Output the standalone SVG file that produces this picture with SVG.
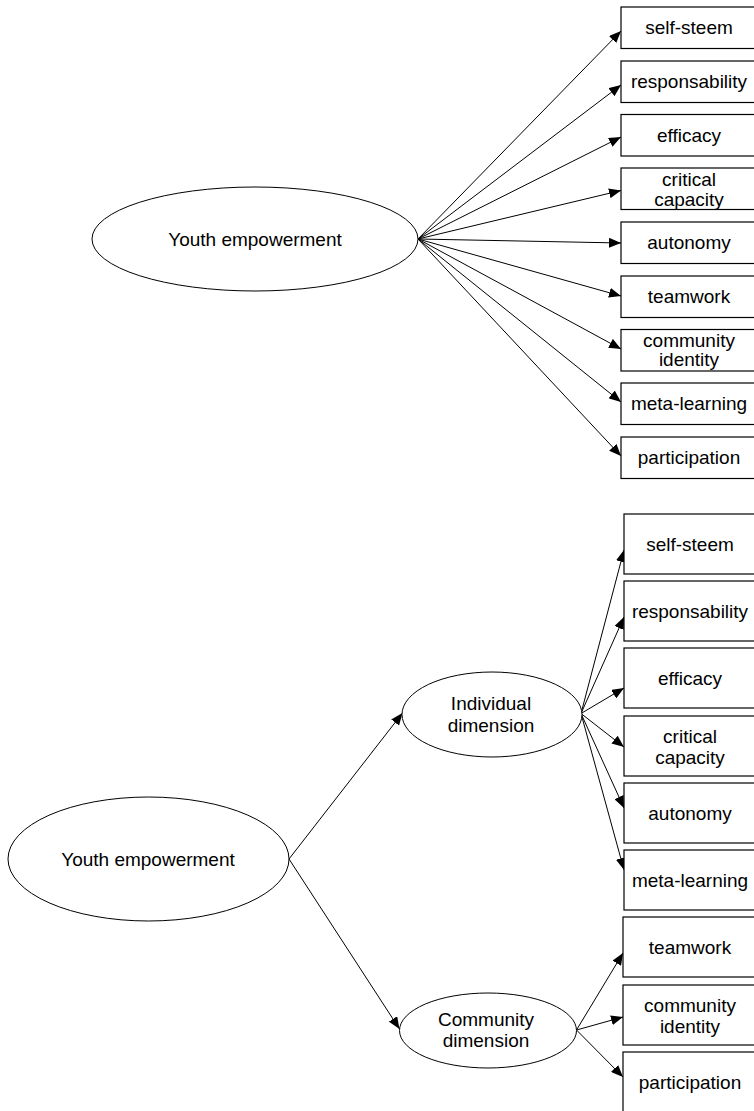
<svg xmlns="http://www.w3.org/2000/svg" width="754" height="1111" viewBox="0 0 754 1111">
<style>
.box{fill:#fff;stroke:#000;stroke-width:1.2}
.ell{fill:#fff;stroke:#000;stroke-width:1}
.t{font-family:"Liberation Sans",Arial,sans-serif;font-size:19px;fill:#000;text-anchor:middle}
.c{stroke:#000;stroke-width:1;fill:none;marker-end:url(#ah)}
</style>
<defs>
<marker id="ah" viewBox="0 0 12 10" refX="12" refY="5" markerWidth="12" markerHeight="10" markerUnits="userSpaceOnUse" orient="auto">
<path d="M0,0 L12,5 L0,10 z" fill="#000"/>
</marker>
</defs>
<rect width="754" height="1111" fill="#fff"/>
<g id="connectors">
<line class="c" x1="418" y1="239" x2="621" y2="31"/>
<line class="c" x1="418" y1="239" x2="621" y2="85"/>
<line class="c" x1="418" y1="239" x2="621" y2="137"/>
<line class="c" x1="418" y1="239" x2="621" y2="190.5"/>
<line class="c" x1="418" y1="239" x2="621" y2="243"/>
<line class="c" x1="418" y1="239" x2="621" y2="296"/>
<line class="c" x1="418" y1="239" x2="621" y2="349"/>
<line class="c" x1="418" y1="239" x2="621" y2="402"/>
<line class="c" x1="418" y1="239" x2="621" y2="456"/>
<line class="c" x1="289" y1="859" x2="402.5" y2="713"/>
<line class="c" x1="289" y1="859" x2="399.5" y2="1029"/>
<line class="c" x1="581" y1="713.5" x2="624" y2="550"/>
<line class="c" x1="581" y1="713.5" x2="624" y2="617"/>
<line class="c" x1="581" y1="713.5" x2="624" y2="688"/>
<line class="c" x1="581" y1="713.5" x2="624" y2="747"/>
<line class="c" x1="581" y1="713.5" x2="624" y2="808"/>
<line class="c" x1="581" y1="713.5" x2="624" y2="870"/>
<line class="c" x1="576.5" y1="1030" x2="623" y2="953"/>
<line class="c" x1="576.5" y1="1030" x2="623" y2="1017"/>
<line class="c" x1="576.5" y1="1030" x2="623" y2="1077"/>
</g>
<g id="top-youth"><ellipse class="ell" cx="255" cy="239" rx="163" ry="52"/><text class="t" x="255" y="246">Youth empowerment</text></g>
<g id="t-selfsteem"><rect class="box" x="621" y="7" width="136" height="41.5"/><text class="t" x="689" y="34">self-steem</text></g>
<g id="t-responsability"><rect class="box" x="621" y="61" width="136" height="41.5"/><text class="t" x="689" y="88">responsability</text></g>
<g id="t-efficacy"><rect class="box" x="621" y="114.5" width="136" height="41.5"/><text class="t" x="689" y="142">efficacy</text></g>
<g id="t-critical"><rect class="box" x="621" y="168" width="136" height="41.5"/><text class="t" x="689" y="186">critical</text><text class="t" x="689" y="205.5">capacity</text></g>
<g id="t-autonomy"><rect class="box" x="621" y="222" width="136" height="41.5"/><text class="t" x="689" y="249">autonomy</text></g>
<g id="t-teamwork"><rect class="box" x="621" y="276" width="136" height="41.5"/><text class="t" x="689" y="303">teamwork</text></g>
<g id="t-community"><rect class="box" x="621" y="329.5" width="136" height="41.5"/><text class="t" x="689" y="346.5">community</text><text class="t" x="689" y="365.5">identity</text></g>
<g id="t-metalearning"><rect class="box" x="621" y="383" width="136" height="41.5"/><text class="t" x="689" y="410">meta-learning</text></g>
<g id="t-participation"><rect class="box" x="621" y="437" width="136" height="41.5"/><text class="t" x="689" y="464">participation</text></g>
<g id="b-youth"><ellipse class="ell" cx="148.5" cy="859" rx="140.5" ry="62"/><text class="t" x="148" y="866">Youth empowerment</text></g>
<g id="b-individual"><ellipse class="ell" cx="492" cy="714.5" rx="90" ry="42.5"/><text class="t" x="491" y="710">Individual</text><text class="t" x="491" y="732">dimension</text></g>
<g id="b-communitydim"><ellipse class="ell" cx="488" cy="1030.5" rx="88.5" ry="37.5"/><text class="t" x="486" y="1026">Community</text><text class="t" x="486" y="1047">dimension</text></g>
<g id="b-selfsteem"><rect class="box" x="624" y="514" width="133" height="60"/><text class="t" x="690" y="551">self-steem</text></g>
<g id="b-responsability"><rect class="box" x="624" y="581" width="133" height="60"/><text class="t" x="690" y="618">responsability</text></g>
<g id="b-efficacy"><rect class="box" x="624" y="648" width="133" height="60"/><text class="t" x="690" y="685">efficacy</text></g>
<g id="b-critical"><rect class="box" x="624" y="716" width="133" height="60"/><text class="t" x="690" y="743">critical</text><text class="t" x="690" y="764">capacity</text></g>
<g id="b-autonomy"><rect class="box" x="624" y="783" width="133" height="60"/><text class="t" x="690" y="820">autonomy</text></g>
<g id="b-metalearning"><rect class="box" x="624" y="850" width="133" height="60"/><text class="t" x="690" y="887">meta-learning</text></g>
<g id="b-teamwork"><rect class="box" x="623" y="917" width="134" height="60"/><text class="t" x="690" y="954">teamwork</text></g>
<g id="b-community"><rect class="box" x="623" y="985" width="134" height="60"/><text class="t" x="690" y="1012">community</text><text class="t" x="690" y="1033">identity</text></g>
<g id="b-participation"><rect class="box" x="623" y="1052" width="134" height="62"/><text class="t" x="690" y="1089">participation</text></g>
</svg>
